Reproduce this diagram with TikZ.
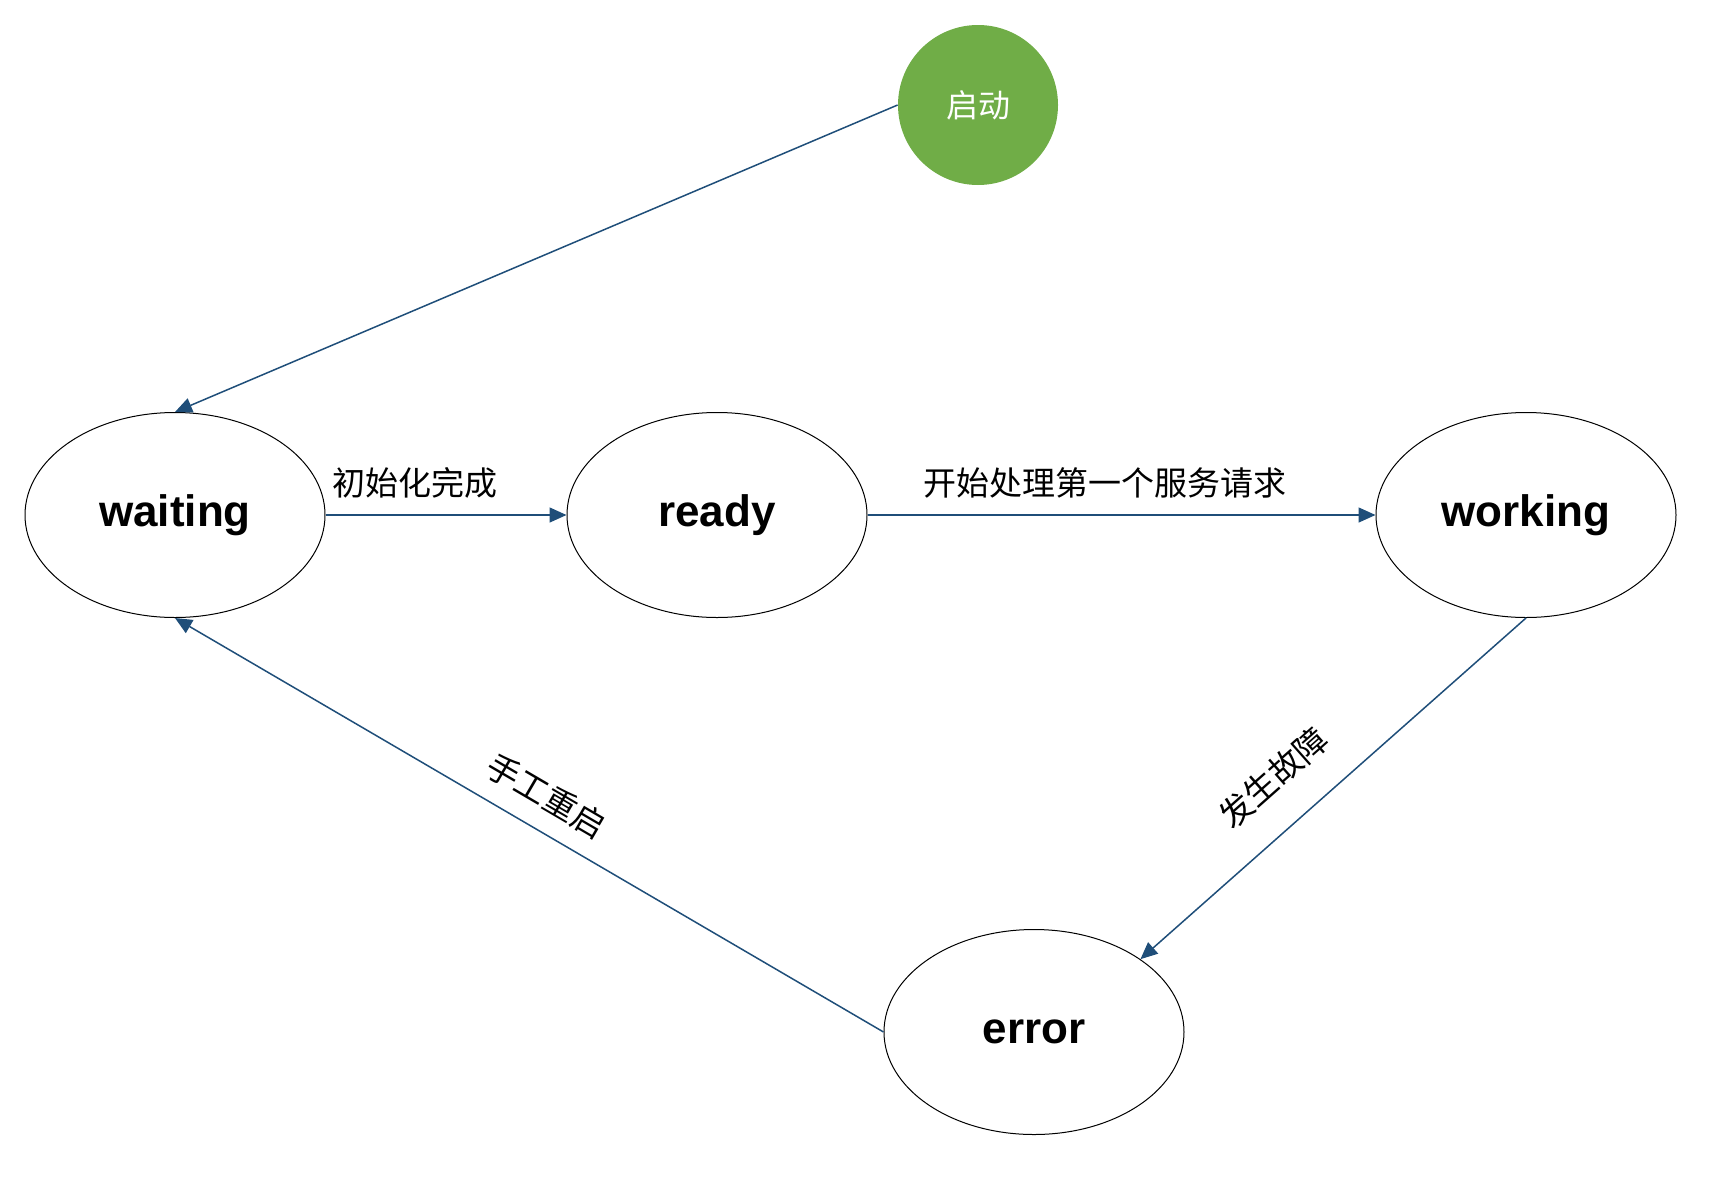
\documentclass[tikz,border=0pt]{standalone}
\usepackage{fontspec}
\setmainfont{Noto Sans CJK SC}
\newfontfamily\statefont{Liberation Sans}
\usetikzlibrary{arrows.meta,shapes.geometric}
\definecolor{linkblue}{HTML}{1F4E79}
\definecolor{startgreen}{HTML}{70AD47}
\begin{document}
\begin{tikzpicture}[x=0.5pt,y=-0.5pt,
  state/.style={ellipse,draw=black,line width=0.5pt,minimum width=150pt,minimum height=102.5pt,inner sep=0pt,font=\statefont\fontsize{22}{26}\selectfont\bfseries},
  startnode/.style={circle,fill=startgreen,minimum size=80pt,inner sep=0pt,text=white,font=\fontsize{16}{20}\selectfont},
  conn/.style={draw=linkblue,line width=0.75pt,-{Triangle[length=8.5pt,width=7.5pt]}},
  lab/.style={inner sep=0pt,font=\fontsize{16.5}{20}\selectfont,text=black}]
\useasboundingbox (0,0) rectangle (1723,1178);
\node[startnode] (start) at (978,105) {启动};
\node[state] (waiting) at (175,515) {waiting};
\node[state] (ready) at (717,515) {ready};
\node[state] (working) at (1526,515) {working};
\node[state] (error) at (1034,1032) {error};
\draw[conn] (start.west) -- (waiting.north);
\draw[conn] (waiting.east) -- node[lab,pos=.372,above=8pt]{初始化完成} (ready.west);
\draw[conn] (ready.east) -- node[lab,pos=.468,above=8pt]{开始处理第一个服务请求} (working.west);
\draw[conn] (working.south) -- node[lab,pos=.573,sloped,above=16pt]{发生故障} (error.north east);
\draw[conn] (error.west) -- node[lab,pos=.5,sloped,above=9pt]{手工重启} (waiting.south);
\end{tikzpicture}
\end{document}
